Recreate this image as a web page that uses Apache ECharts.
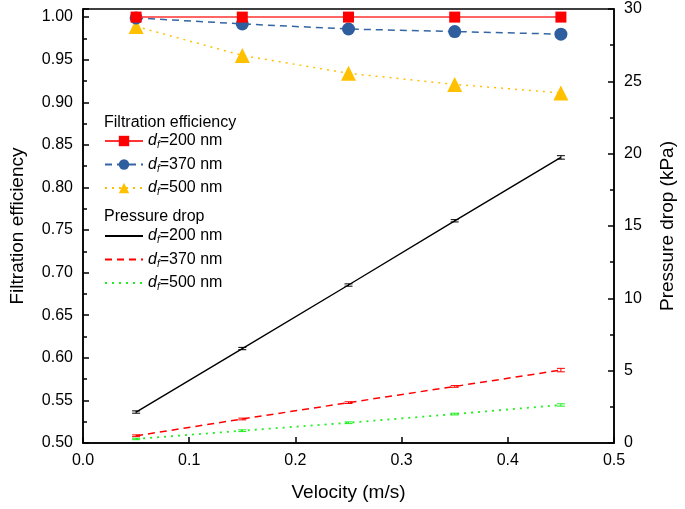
<!DOCTYPE html>
<html>
<head>
<meta charset="utf-8">
<script src="https://cdn.jsdelivr.net/npm/echarts@6/dist/echarts.min.js"></script>
<style>
  html, body { margin: 0; padding: 0; background: #fff; }
  #chart { width: 685px; height: 509px; }
</style>
</head>
<body>
<div id="chart"></div>
<script>
// velocity (m/s)
const velocity = [0.05, 0.15, 0.25, 0.35, 0.45];

// filtration efficiency
const eff200 = [1.0, 1.0, 1.0, 1.0, 1.0];
const eff370 = [0.999, 0.992, 0.986, 0.983, 0.980];
const eff500 = [0.989, 0.955, 0.934, 0.921, 0.911];

// pressure drop (kPa)
const dp200 = [2.14, 6.53, 10.92, 15.36, 19.74];
const dp370 = [0.50, 1.66, 2.79, 3.91, 5.04];
const dp500 = [0.28, 0.85, 1.40, 2.00, 2.63];

// error bars (kPa)
const dp200Err = [0.08, 0.08, 0.08, 0.08, 0.12];
const dp370Err = [0.06, 0.06, 0.06, 0.06, 0.12];
const dp500Err = [0.05, 0.06, 0.06, 0.06, 0.08];

const labels = {
  fe200: "=200 nm", fe370: "=370 nm", fe500: "=500 nm",
  pd200: "=200 nm", pd370: "=370 nm", pd500: "=500 nm",
};

const FONT = "Liberation Sans, Arial, sans-serif";

function pairs(ys) {
  return velocity.map((x, i) => [x, ys[i]]);
}
function errPairs(ys, es) {
  return velocity.map((x, i) => [x, ys[i], es[i]]);
}

function errorBar(color) {
  return function (params, api) {
    let x = api.value(0);
    let y = api.value(1);
    let e = api.value(2);
    let lo = api.coord([x, y - e]);
    let hi = api.coord([x, y + e]);
    let w = 4;
    let style = { stroke: color, lineWidth: 1 };
    return {
      type: "group",
      children: [
        { type: "line", shape: { x1: lo[0], y1: lo[1], x2: hi[0], y2: hi[1] }, style: style },
        { type: "line", shape: { x1: lo[0] - w, y1: lo[1], x2: lo[0] + w, y2: lo[1] }, style: style },
        { type: "line", shape: { x1: hi[0] - w, y1: hi[1], x2: hi[0] + w, y2: hi[1] }, style: style },
      ],
    };
  };
}

const rich = {
  d: { fontFamily: FONT, fontStyle: "italic", fontSize: 16, color: "#000" },
  f: { fontFamily: FONT, fontStyle: "italic", fontSize: 10, color: "#000", padding: [9, 0, 0, 0] },
  n: { fontFamily: FONT, fontSize: 16, color: "#000" },
};
function legendFmt(name) {
  return "{d|d}{f|f}{n|" + labels[name] + "}";
}

const chart = echarts.init(document.getElementById("chart"));
const option = {
  animation: false,
  backgroundColor: "#fff",
  grid: {
    left: 79, right: 67, top: 9, bottom: 66,
    show: true, borderColor: "#000", borderWidth: 1.5,
  },
  graphic: [
    { type: "text", left: 104, top: 115, style: { text: "Filtration efficiency", font: "16px " + FONT, fill: "#000" } },
    { type: "text", left: 104, top: 209, style: { text: "Pressure drop", font: "16px " + FONT, fill: "#000" } },
  ],
  legend: [
    {
      orient: "vertical", left: 104, top: 133, padding: 0,
      itemWidth: 38, itemHeight: 13, itemGap: 6,
      data: ["fe200", "fe370", "fe500"], formatter: legendFmt,
      textStyle: { rich: rich }, selectedMode: false,
    },
    {
      orient: "vertical", left: 104, top: 228, padding: 0,
      itemWidth: 38, itemHeight: 13, itemGap: 6,
      itemStyle: { opacity: 0 },
      data: ["pd200", "pd370", "pd500"], formatter: legendFmt,
      textStyle: { rich: rich }, selectedMode: false,
    },
  ],
  xAxis: {
    type: "value", min: 0, max: 0.5, interval: 0.1,
    name: "Velocity (m/s)", nameLocation: "middle", nameGap: 40,
    nameTextStyle: { fontFamily: FONT, fontSize: 19, color: "#000" },
    axisLine: { lineStyle: { color: "#000", width: 1.5 } },
    axisTick: { inside: true, length: 6, lineStyle: { color: "#000", width: 1.5 } },
    axisLabel: {
      fontFamily: FONT, fontSize: 16, color: "#000", margin: 10,
      formatter: (v) => v.toFixed(1),
    },
    splitLine: { show: false },
  },
  yAxis: [
    {
      type: "value", min: 0.5, max: 1.0095, interval: 0.05,
      name: "Filtration efficiency", nameLocation: "middle", nameGap: 56,
      nameTextStyle: { fontFamily: FONT, fontSize: 19, color: "#000" },
      axisLine: { show: true, lineStyle: { color: "#000", width: 1.5 } },
      axisTick: { inside: true, length: 6, lineStyle: { color: "#000", width: 1.5 } },
      minorTick: { show: true, splitNumber: 2, length: 4, lineStyle: { color: "#000", width: 1.5 } },
      axisLabel: {
        fontFamily: FONT, fontSize: 16, color: "#000", margin: 10, showMaxLabel: false,
        formatter: (v) => v.toFixed(2),
      },
      splitLine: { show: false },
    },
    {
      type: "value", min: 0, max: 30, interval: 5, position: "right",
      name: "Pressure drop (kPa)", nameLocation: "middle", nameGap: 44,
      nameTextStyle: { fontFamily: FONT, fontSize: 19, color: "#000" },
      axisLine: { show: true, lineStyle: { color: "#000", width: 1.5 } },
      axisTick: { inside: true, length: 6, lineStyle: { color: "#000", width: 1.5 } },
      minorTick: { show: true, splitNumber: 2, length: 4, lineStyle: { color: "#000", width: 1.5 } },
      axisLabel: { fontFamily: FONT, fontSize: 16, color: "#000", margin: 10 },
      splitLine: { show: false },
    },
  ],
  series: [
    {
      name: "pd200", type: "line", yAxisIndex: 1, data: pairs(dp200), symbol: "none",
      lineStyle: { color: "#000", width: 1.4 }, itemStyle: { color: "#000" },
    },
    {
      name: "pd370", type: "line", yAxisIndex: 1, data: pairs(dp370), symbol: "none",
      lineStyle: { color: "#ff0000", width: 1.5, type: [7, 5] }, itemStyle: { color: "#ff0000" },
    },
    {
      name: "pd500", type: "line", yAxisIndex: 1, data: pairs(dp500), symbol: "none",
      lineStyle: { color: "#22ee22", width: 1.8, type: [2, 5] }, itemStyle: { color: "#22ee22" },
    },
    { type: "custom", yAxisIndex: 1, renderItem: errorBar("#000"), data: errPairs(dp200, dp200Err), z: 3 },
    { type: "custom", yAxisIndex: 1, renderItem: errorBar("#ff0000"), data: errPairs(dp370, dp370Err), z: 3 },
    { type: "custom", yAxisIndex: 1, renderItem: errorBar("#22ee22"), data: errPairs(dp500, dp500Err), z: 3 },
    {
      name: "fe500", type: "line", yAxisIndex: 0, data: pairs(eff500),
      symbol: "triangle", symbolSize: 15,
      lineStyle: { color: "#ffc000", width: 1.5, type: [2, 5] }, itemStyle: { color: "#ffc000" }, z: 4,
    },
    {
      name: "fe370", type: "line", yAxisIndex: 0, data: pairs(eff370),
      symbol: "circle", symbolSize: 13,
      lineStyle: { color: "#3465a4", width: 1.5, type: [7, 5] }, itemStyle: { color: "#2f5e9e" }, z: 5,
    },
    {
      name: "fe200", type: "line", yAxisIndex: 0, data: pairs(eff200),
      symbol: "rect", symbolSize: 11,
      lineStyle: { color: "#ff3333", width: 1.5 }, itemStyle: { color: "#ff0000" }, z: 6,
    },
  ],
};
chart.setOption(option);
window.addEventListener("resize", function () {
  chart.resize();
});
</script>
</body>
</html>
